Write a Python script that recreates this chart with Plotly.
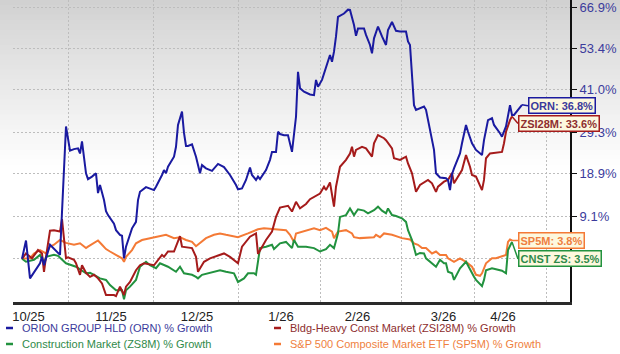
import math
import plotly.graph_objects as go

# ---------------- data (sessions since start, % growth) ----------------
orn_t = [0,2,4,6,9,10,11,14,16,19,22,24,26,28,29,30,32,33,35,37,38,39,41,42,43,46,47,49,50,51,
         52,53,55,57,58,59,61,62,66,67,70,71,72,73,76,77,78,80,81,82,83,85,87,88,89,90,92,95,98,101,
         104,107,108,110,112,114,115,117,118,119,122,124,125,127,128,129,131,133,134,135,137,138,139,141,144,146,147,148,150,152,
         154,155,156,157,158,161,163,164,166,167,168,171,172,174,175,176,178,180,182,183,185,187,189,192,193,194,196,197,199,201,
         202,204,206,207,209,212,213,214,215,216,219,220,222,223,225,227,230,231,233,235,236,239,240,242,244,245,246,249,250]
orn_pct = [0.0,3.8,-3.9,-2.6,-0.9,0.4,-1.3,2.9,2.0,0.8,30.9,24.6,25.0,25.2,23.9,27.0,19.0,17.6,18.2,19.0,
           14.3,16.2,12.7,10.2,9.3,7.4,6.0,5.0,4.8,0.1,2.5,3.9,6.4,7.8,12.7,14.6,15.4,15.7,15.0,15.8,
           18.6,19.8,19.0,20.6,23.1,25.6,31.3,34.9,29.2,25.8,25.8,26.2,23.1,20.6,19.0,21.0,20.2,19.6,21.3,20.5,
           18.6,16.2,15.2,15.4,17.4,20.4,18.6,17.4,18.2,17.6,19.8,22.3,24.3,24.3,29.5,28.9,28.6,28.6,26.5,24.3,
           33.5,46.3,41.5,40.5,39.7,39.5,43.9,41.9,43.9,47.8,51.4,49.3,52.4,57.2,63.6,64.7,66.0,65.9,60.9,57.4,
           59.8,59.8,57.7,54.5,51.9,56.6,60.4,57.2,54.5,59.3,61.9,59.0,58.8,58.8,55.6,54.5,36.7,35.4,35.9,36.3,
           35.4,30.0,24.8,19.0,18.0,17.8,17.4,15.0,18.8,20.2,23.9,26.5,31.3,29.5,26.5,24.8,23.5,27.3,32.6,33.1,
           31.3,29.1,28.2,30.9,36.7,34.0,34.0,36.1,36.8]

zsi_t = [0,2,5,8,10,11,12,14,16,19,20,22,23,26,27,29,30,32,34,36,38,40,42,46,47,49,51,52,54,57,
         59,61,66,70,71,73,76,77,79,80,85,87,88,91,94,101,104,108,110,114,117,118,122,125,127,129,133,135,137,139,
         142,144,147,149,151,152,154,156,157,159,162,164,165,166,167,170,172,175,176,178,181,182,185,186,189,192,193,195,197,199,
         203,205,207,208,211,213,215,216,220,222,224,225,227,230,231,232,234,240,241,242,244,245]
zsi_pct = [0.0,1.1,0.1,1.8,1.1,-2.6,0.4,5.9,6.0,5.7,8.4,0.1,0.3,-0.2,-0.9,-3.2,-1.3,-2.8,-3.6,-3.2,
           -3.9,-4.9,-7.1,-7.1,-7.3,-5.5,-7.1,-5.5,-4.6,-2.3,-1.3,-0.9,-1.3,0.8,0.4,1.5,1.5,2.5,4.7,2.5,
           2.2,0.4,-2.6,-0.6,0.1,1.1,0.4,-0.9,2.5,4.6,5.3,1.0,3.9,5.7,8.9,11.0,11.4,10.1,12.3,10.8,
           11.8,12.9,13.6,14.2,15.8,15.0,16.8,11.2,15.8,20.6,22.3,23.9,25.6,23.1,24.8,25.6,25.2,23.1,26.5,28.6,
           27.8,27.3,25.2,22.7,22.3,23.1,21.4,19.0,14.6,16.2,17.4,16.6,14.6,15.8,17.0,17.4,19.1,16.6,19.8,23.5,
           20.6,18.6,18.2,15.0,17.4,22.7,23.9,24.3,26.5,29.5,32.6,33.6]

zs8_t = [0,2,6,9,11,12,16,18,22,25,27,32,34,36,39,42,44,47,50,51,52,54,57,59,62,64,67,69,73,77,
         79,81,85,87,88,90,96,99,102,106,108,111,113,116,117,119,122,125,126,129,132,135,136,138,142,146,149,152,154,156,
         158,159,162,164,166,168,171,173,176,178,180,182,183,185,187,190,192,193,195,197,199,201,202,205,207,209,211,212,213,215,
         216,219,222,226,227,230,231,232,235,240,242,243,245]
zs8_pct = [0.0,-0.6,-0.2,0.8,-0.9,0.4,0.8,0.6,-0.9,-1.3,-1.6,-2.9,-2.8,-3.2,-3.9,-4.2,-5.2,-6.2,-6.2,-7.9,
           -6.2,-5.5,-4.2,-1.6,-0.6,-1.3,-1.9,-0.9,-1.6,-2.6,-1.6,-2.9,-3.2,-3.6,-3.9,-3.2,-2.6,-2.3,-2.6,-2.9,
           -4.6,-3.9,-2.9,-2.9,-3.2,2.2,2.5,2.9,2.0,3.2,3.5,2.2,3.9,2.5,2.5,2.2,1.5,2.0,2.9,2.2,
           5.3,8.9,9.3,10.8,9.3,10.6,10.3,9.7,10.4,11.2,10.3,9.7,10.8,9.3,9.1,8.6,7.8,6.0,3.9,0.8,
           1.2,1.1,0.1,-0.9,-1.6,-0.2,-0.9,-0.9,-2.6,-2.9,-4.2,-1.9,-0.6,-3.6,-4.2,-5.4,-4.2,-2.3,-1.9,-2.4,
           -2.9,1.8,3.5]

sp5_t = [0,4,6,9,12,14,16,19,22,26,29,32,33,36,38,40,42,44,47,50,51,52,55,57,60,66,72,76,79,82,
         85,87,89,92,96,99,102,108,113,118,121,127,132,134,136,137,142,146,149,152,155,156,158,162,165,166,169,176,177,179,
         181,185,190,194,196,198,200,202,205,207,209,212,213,216,219,222,225,227,229,230,232,235,237,240,242,243,244,245]
sp5_pct = [0.0,0.1,1.1,1.8,1.1,2.5,2.9,3.9,3.3,2.9,3.2,2.2,2.5,3.3,3.8,2.9,2.0,1.5,0.8,0.1,
           -0.6,0.4,1.8,3.2,3.9,4.5,5.0,4.3,4.5,3.9,3.5,2.6,3.2,4.3,5.0,5.3,5.0,4.5,5.3,6.2,
           6.4,6.2,6.0,5.0,3.5,5.3,6.0,6.4,6.0,6.5,5.7,4.3,5.7,6.0,5.3,4.5,4.3,4.5,5.0,4.5,
           5.3,5.0,4.3,4.0,3.2,2.9,2.2,2.2,1.1,1.5,0.8,0.8,0.1,-0.6,0.1,-0.6,-1.6,-3.2,-3.4,-2.9,
           -0.9,0.1,0.1,0.6,0.8,3.5,4.0,3.8]

x_tick_vals = [3.25, 44.5, 87.5, 129.5, 167.75, 210.75, 240.5]
x_tick_text = ["10/25", "11/25", "12/25", "1/26", "2/26", "3/26", "4/26"]
x_grid_vals = [23, 65.5, 108, 149, 189.5, 226, 262]
y_tick_pct = [66.9, 53.4, 41.0, 29.3, 18.9, 9.1, 0.0]
y_tick_text = ["66.9%", "53.4%", "41.0%", "29.3%", "18.9%", "9.1%", ""]

legend_names = ["ORION GROUP HLD (ORN) % Growth",
                "Bldg-Heavy Const Market (ZSI28M) % Growth",
                "Construction Market (ZS8M) % Growth",
                "S&P 500 Composite Market ETF (SP5M) % Growth"]
end_tags = ["ORN", "ZSI28M", "CNST ZS", "SP5M"]

# ---------------- styling ----------------
line_colors = ["#1a1aa0", "#a51b1b", "#22923f", "#f47a36"]
text_colors = ["#3b3b9c", "#8e2e2e", "#2f8a4a", "#ef7f3e"]
tag_dy = [1, 7, 17, 0]             # vertical offset of end tags (px, + = down)
tag_gap = [6, 6, 6, 6]             # pointer length (px)

W, H = 620, 354
ML, MR, MT, MB = 13, 50, 0, 52
PW, PH = W - ML - MR, H - MT - MB

def growth(p):
    return [1 + v / 100.0 for v in p]

series = [(orn_t, orn_pct), (zsi_t, zsi_pct), (zs8_t, zs8_pct), (sp5_t, sp5_pct)]

fig = go.Figure()
for i in [3, 2, 1, 0]:
    t, p = series[i]
    fig.add_trace(go.Scatter(x=t, y=growth(p), mode="lines",
                             line=dict(color=line_colors[i], width=2),
                             hoverinfo="skip", showlegend=False))

shapes = []
# background gradient (top grey -> white)
n_strip = 34
for k in range(n_strip):
    py0 = k * 5
    py1 = py0 + 5
    f = (k + 0.5) / n_strip
    shade = int(round(208 + (255 - 208) * (f ** 0.9)))
    col = f"rgb({shade},{shade},{shade})"
    shapes.append(dict(type="rect", xref="paper", yref="paper",
                       x0=-ML / PW - 0.01, x1=1 + MR / PW + 0.01,
                       y0=1 - py1 / PH, y1=1 - py0 / PH + 0.001,
                       fillcolor=col, line=dict(width=0), layer="below"))

annotations = []
# end tags: boxed labels with a short pointer to the last point
for i in range(4):
    t, p = series[i]
    xe = t[-1]
    ye = math.log10(1 + p[-1] / 100.0)
    annotations.append(dict(x=xe, y=ye, xref="x", yref="y",
                            showarrow=True, arrowhead=0, arrowwidth=1.5,
                            arrowcolor=line_colors[i], standoff=0, startstandoff=0,
                            axref="pixel", ayref="pixel",
                            ax=tag_gap[i], ay=tag_dy[i],
                            xanchor="left", yanchor="middle",
                            text=f"<b>{end_tags[i]}: {p[-1]:.1f}%</b>",
                            bgcolor="#fdf8de", bordercolor=line_colors[i],
                            borderwidth=1.5, borderpad=1,
                            font=dict(family="Arial", size=11, color=text_colors[i])))

# legend (two columns)
leg_pos = [(8, 328), (276, 328), (8, 344), (276, 344)]
for i in range(4):
    px, py = leg_pos[i]
    yp = 1 - py / PH
    shapes.append(dict(type="line", xref="paper", yref="paper",
                       x0=(px - 2 - ML) / PW, x1=(px + 5 - ML) / PW, y0=yp, y1=yp,
                       line=dict(color=line_colors[i], width=2.5)))
    annotations.append(dict(x=(px + 12 - ML) / PW, y=yp, xref="paper", yref="paper",
                            showarrow=False, xanchor="left", yanchor="middle",
                            text=legend_names[i].replace("&", "&amp;"),
                            font=dict(family="Arial", size=11, color=text_colors[i])))

fig.update_layout(
    width=W, height=H, autosize=False,
    margin=dict(l=ML, r=MR, t=MT, b=MB, pad=0),
    paper_bgcolor="white", plot_bgcolor="rgba(0,0,0,0)",
    shapes=shapes, annotations=annotations,
    xaxis=dict(range=[-4.5, 274], tickmode="array", tickvals=x_tick_vals,
               ticktext=x_tick_text, showgrid=False, zeroline=False,
               ticks="", showline=True, linecolor="#2a2a2a", linewidth=3,
               tickfont=dict(family="Arial", size=13, color="#222222"),
               minor=dict(tickmode="array", tickvals=x_grid_vals, showgrid=True,
                          gridcolor="#bdbdbd", griddash="2px,2px", gridwidth=1, ticks=""),
               fixedrange=True),
    yaxis=dict(type="log", side="right",
               range=[math.log10(0.9159), math.log10(1.693)],
               tickmode="array", tickvals=growth(y_tick_pct), ticktext=y_tick_text,
               showgrid=True, gridcolor="#bdbdbd", griddash="2px,2px", gridwidth=1,
               zeroline=False, showline=True, linecolor="#111111", linewidth=2,
               ticks="outside", ticklen=5, tickcolor="#111111", tickwidth=1,
               ticklabeloverflow="allow",
               tickfont=dict(family="Arial", size=13, color="#3b3b9c"),
               fixedrange=True),
)

fig.write_html("out.html")
